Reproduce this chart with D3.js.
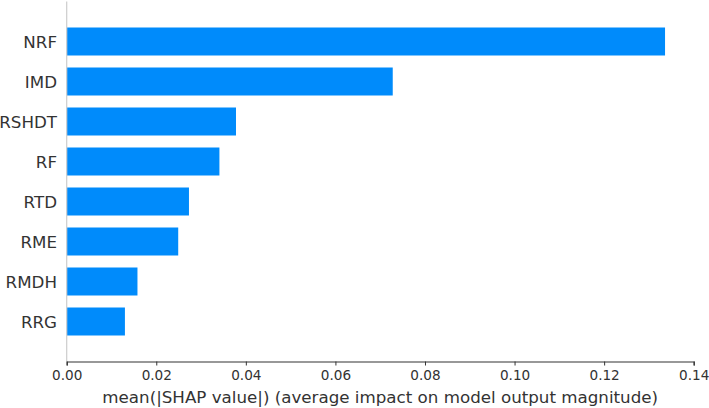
<!DOCTYPE html>
<html>
<head>
<meta charset="utf-8">
<script src="https://cdn.jsdelivr.net/npm/d3@7"></script>
<style>
  body { margin: 0; background: #fff; }
  text { font-family: "DejaVu Sans", sans-serif; }
</style>
</head>
<body>
<div id="chart"></div>
<script>
// Feature names, top to bottom
var features = ["NRF", "IMD", "RSHDT", "RF", "RTD", "RME", "RMDH", "RRG"];
// mean |SHAP| for each feature
var shapValues = [0.1336, 0.0728, 0.0378, 0.0341, 0.0273, 0.0249, 0.0158, 0.0130];
var xTicks = [0.00, 0.02, 0.04, 0.06, 0.08, 0.10, 0.12, 0.14];

var width = 709;
var height = 408;
var margin = {top: 1.5, right: 15, bottom: 46.5, left: 66.7};

var svg = d3.select("#chart")
  .append("svg")
  .attr("width", width)
  .attr("height", height);

var x = d3.scaleLinear()
  .domain([0, 0.14])
  .range([margin.left, 693.7]);

// positions: NRF = 7 ... RRG = 0, axis spans -1..8
var y = d3.scaleLinear()
  .domain([-1, 8])
  .range([height - margin.bottom, margin.top]);

var barH = (y(0) - y(0.7));

svg.append("g")
  .selectAll("rect")
  .data(features)
  .join("rect")
  .attr("x", x(0))
  .attr("y", (d, i) => y(7 - i) - barH / 2)
  .attr("width", (d, i) => x(shapValues[i]) - x(0))
  .attr("height", barH)
  .attr("fill", "#008bfb");

// feature labels
svg.append("g")
  .attr("font-size", 16.7)
  .attr("fill", "#333")
  .attr("text-anchor", "end")
  .selectAll("text")
  .data(features)
  .join("text")
  .attr("x", 57)
  .attr("y", (d, i) => y(7 - i))
  .attr("dy", "0.36em")
  .text(d => d);

// left spine
svg.append("line")
  .attr("x1", x(0)).attr("x2", x(0))
  .attr("y1", y(8)).attr("y2", y(-1))
  .attr("stroke", "#cccccc")
  .attr("stroke-width", 1.2);

// bottom axis
var xAxis = svg.append("g")
  .attr("transform", `translate(0,${y(-1)})`)
  .call(d3.axisBottom(x).tickValues(xTicks).tickFormat(d3.format(".2f")).tickSize(4).tickPadding(5));

xAxis.select(".domain").attr("stroke", "#333").attr("stroke-width", 1.2);
xAxis.selectAll(".tick line").attr("stroke", "#333");
xAxis.selectAll(".tick text")
  .attr("fill", "#333")
  .attr("font-size", 13.6)
  .attr("font-family", "DejaVu Sans, sans-serif");

svg.append("text")
  .attr("x", (x(0) + x(0.14)) / 2)
  .attr("y", 402.5)
  .attr("text-anchor", "middle")
  .attr("font-size", 16.7)
  .attr("fill", "#333")
  .text("mean(|SHAP value|) (average impact on model output magnitude)");
</script>
</body>
</html>
